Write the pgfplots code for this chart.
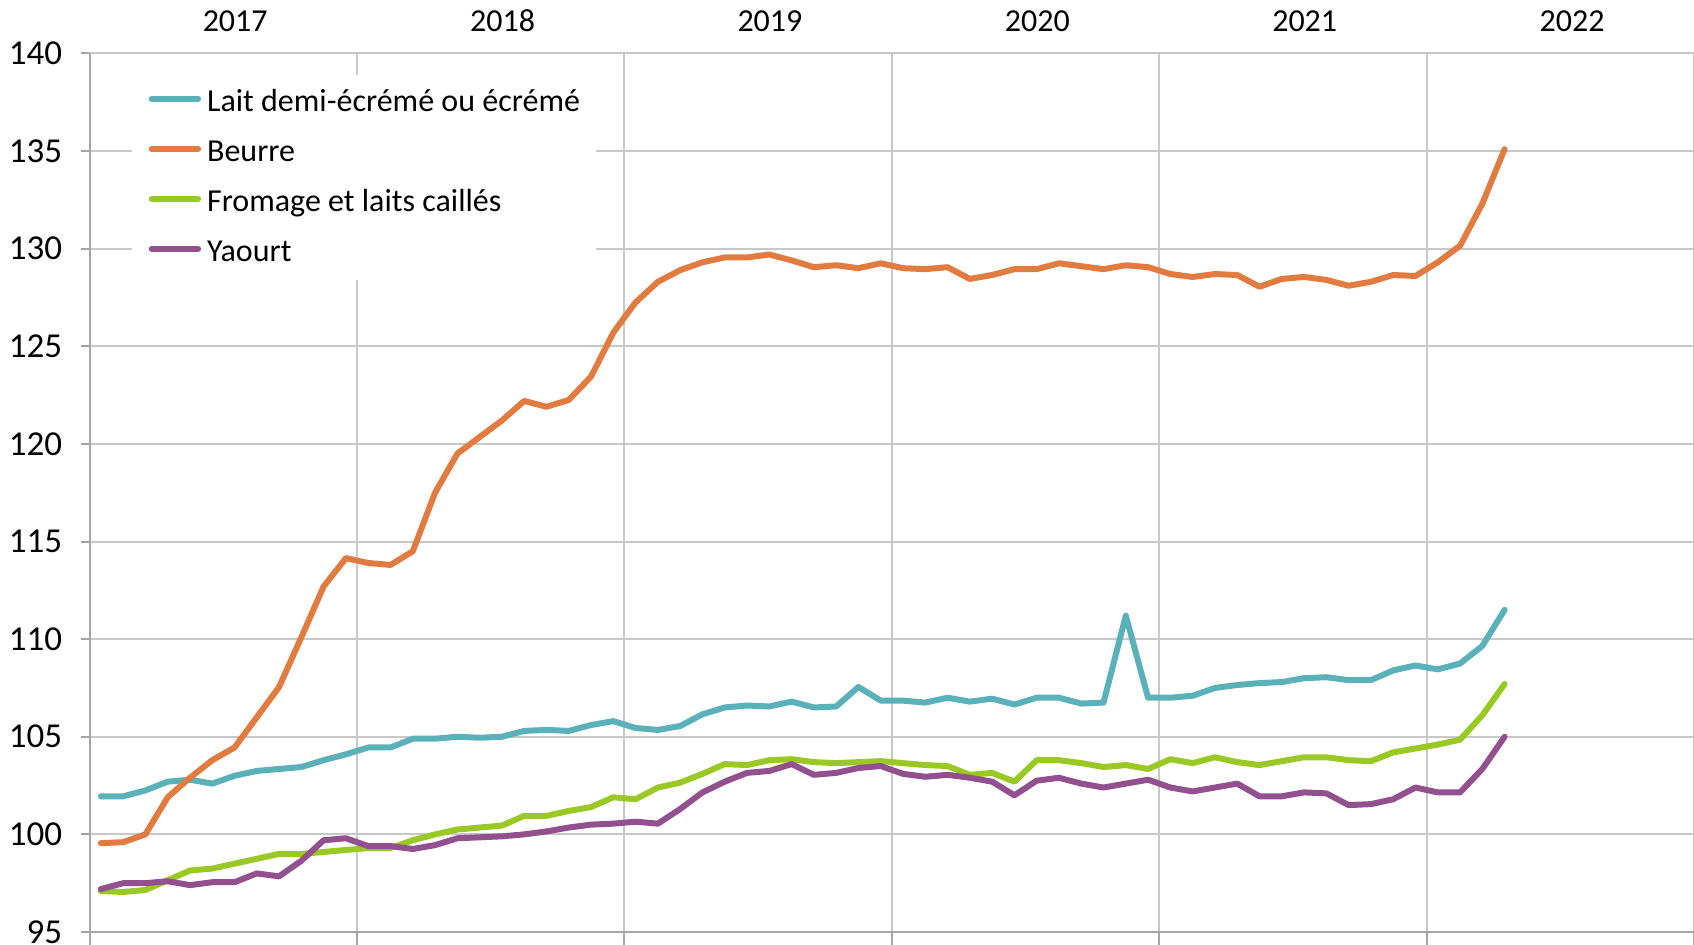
\documentclass[border=0pt]{standalone}
\usepackage{fontspec}
\setmainfont{Carlito}
\usepackage{pgfplots}
\pgfplotsset{compat=1.18}
\usepackage{pgfplotstable}
\definecolor{lait}{HTML}{5BB1BA}
\definecolor{beurre}{HTML}{E27B40}
\definecolor{fromage}{HTML}{9AC825}
\definecolor{yaourt}{HTML}{92508F}
\definecolor{gridc}{HTML}{C8C8C8}
\definecolor{axisc}{HTML}{A6A6A6}
\pgfplotstableread{
x lait beurre fromage yaourt
0.5 101.95 99.55 97.10 97.20
1.5 101.95 99.60 97.05 97.50
2.5 102.25 100.00 97.15 97.50
3.5 102.70 101.90 97.65 97.60
4.5 102.80 102.90 98.15 97.40
5.5 102.60 103.80 98.25 97.55
6.5 103.00 104.45 98.50 97.55
7.5 103.25 106.00 98.75 98.00
8.5 103.35 107.55 99.00 97.85
9.5 103.45 110.10 99.00 98.65
10.5 103.80 112.70 99.10 99.70
11.5 104.10 114.15 99.20 99.80
12.5 104.45 113.90 99.30 99.40
13.5 104.45 113.80 99.30 99.40
14.5 104.90 114.50 99.70 99.25
15.5 104.90 117.50 100.00 99.45
16.5 105.00 119.50 100.25 99.80
17.5 104.95 120.35 100.35 99.85
18.5 105.00 121.20 100.45 99.90
19.5 105.30 122.20 100.95 100.00
20.5 105.35 121.90 100.95 100.15
21.5 105.30 122.25 101.20 100.35
22.5 105.60 123.45 101.40 100.50
23.5 105.80 125.70 101.90 100.55
24.5 105.45 127.25 101.80 100.65
25.5 105.35 128.30 102.40 100.55
26.5 105.55 128.90 102.65 101.30
27.5 106.15 129.30 103.10 102.15
28.5 106.50 129.55 103.60 102.70
29.5 106.60 129.55 103.55 103.15
30.5 106.55 129.70 103.80 103.25
31.5 106.80 129.40 103.85 103.60
32.5 106.50 129.05 103.70 103.05
33.5 106.55 129.15 103.65 103.15
34.5 107.55 129.00 103.70 103.40
35.5 106.85 129.25 103.75 103.50
36.5 106.85 129.00 103.65 103.10
37.5 106.75 128.95 103.55 102.95
38.5 107.00 129.05 103.50 103.05
39.5 106.80 128.45 103.05 102.90
40.5 106.95 128.65 103.15 102.70
41.5 106.65 128.95 102.70 102.00
42.5 107.00 128.95 103.80 102.75
43.5 107.00 129.25 103.80 102.90
44.5 106.70 129.10 103.65 102.60
45.5 106.75 128.95 103.45 102.40
46.5 111.20 129.15 103.55 102.60
47.5 107.00 129.05 103.35 102.80
48.5 107.00 128.70 103.85 102.40
49.5 107.10 128.55 103.65 102.20
50.5 107.50 128.70 103.95 102.40
51.5 107.65 128.65 103.70 102.60
52.5 107.75 128.05 103.55 101.95
53.5 107.80 128.45 103.75 101.95
54.5 108.00 128.55 103.95 102.15
55.5 108.05 128.40 103.95 102.10
56.5 107.90 128.10 103.80 101.50
57.5 107.90 128.30 103.75 101.55
58.5 108.40 128.65 104.20 101.80
59.5 108.65 128.60 104.40 102.40
60.5 108.45 129.30 104.60 102.15
61.5 108.75 130.15 104.85 102.15
62.5 109.65 132.30 106.10 103.35
63.5 111.50 135.10 107.70 105.00
}\data
\begin{document}
\begin{tikzpicture}
\path[use as bounding box] (0,0) rectangle (847pt,472pt);
\begin{axis}[
  at={(44.85pt,6pt)}, anchor=south west,
  scale only axis, width=802.15pt, height=439.3pt,
  xmin=0, xmax=72, ymin=95, ymax=140,
  axis line style={gridc, line width=1pt},
  xtick={6,18,...,66},
  xticklabels={2017,2018,2019,2020,2021,2022},
  xtick pos=bottom,
  xticklabel pos=top,
  major x tick style={draw=none},
  minor xtick={0,12,...,72},
  minor x tick style={axisc, line width=1pt},
  ytick={95,100,...,140},
  ytick pos=left,
  major y tick style={axisc, line width=1pt},
  tick align=outside,
  major tick length=4.5pt,
  minor tick length=6.5pt,
  ymajorgrids, xminorgrids,
  grid style={gridc, line width=1pt},
  minor grid style={gridc, line width=1pt},
  /pgf/number format/assume math mode=true,
  ticklabel style={text=black},
  yticklabel style={font=\fontsize{17.5}{20}\selectfont, xshift=-5.8pt},
  xticklabel style={font=\fontsize{16}{19}\selectfont, xshift=5.9pt, yshift=2.7pt},
  legend cell align=left,
  legend style={at={(0.02624,0.97633)}, anchor=north west, fill=white, draw=none,
    inner xsep=8.25pt, inner ysep=5.4pt, row sep=8pt,
    font=\fontsize{16}{19}\selectfont,
    nodes={inner sep=0pt, text height=13pt, text depth=4pt}},
  legend image code/.code={\draw[#1, line cap=round] (1.4pt,1.8pt) -- (24.6pt,1.8pt); \path (27.6pt,1.8pt);},
  every axis plot/.append style={line width=3pt, line join=round, line cap=round},
  after end axis/.code={\draw[axisc, line width=1pt] (rel axis cs:0,1) -- (rel axis cs:0,0) -- (rel axis cs:1,0);},
]
\addplot[lait] table[x=x,y=lait]{\data};
\addlegendentry{Lait demi-écrémé ou écrémé}
\addplot[beurre] table[x=x,y=beurre]{\data};
\addlegendentry{Beurre}
\addplot[fromage] table[x=x,y=fromage]{\data};
\addlegendentry{Fromage et laits caillés}
\addplot[yaourt] table[x=x,y=yaourt]{\data};
\addlegendentry{Yaourt}
\end{axis}
\end{tikzpicture}
\end{document}
